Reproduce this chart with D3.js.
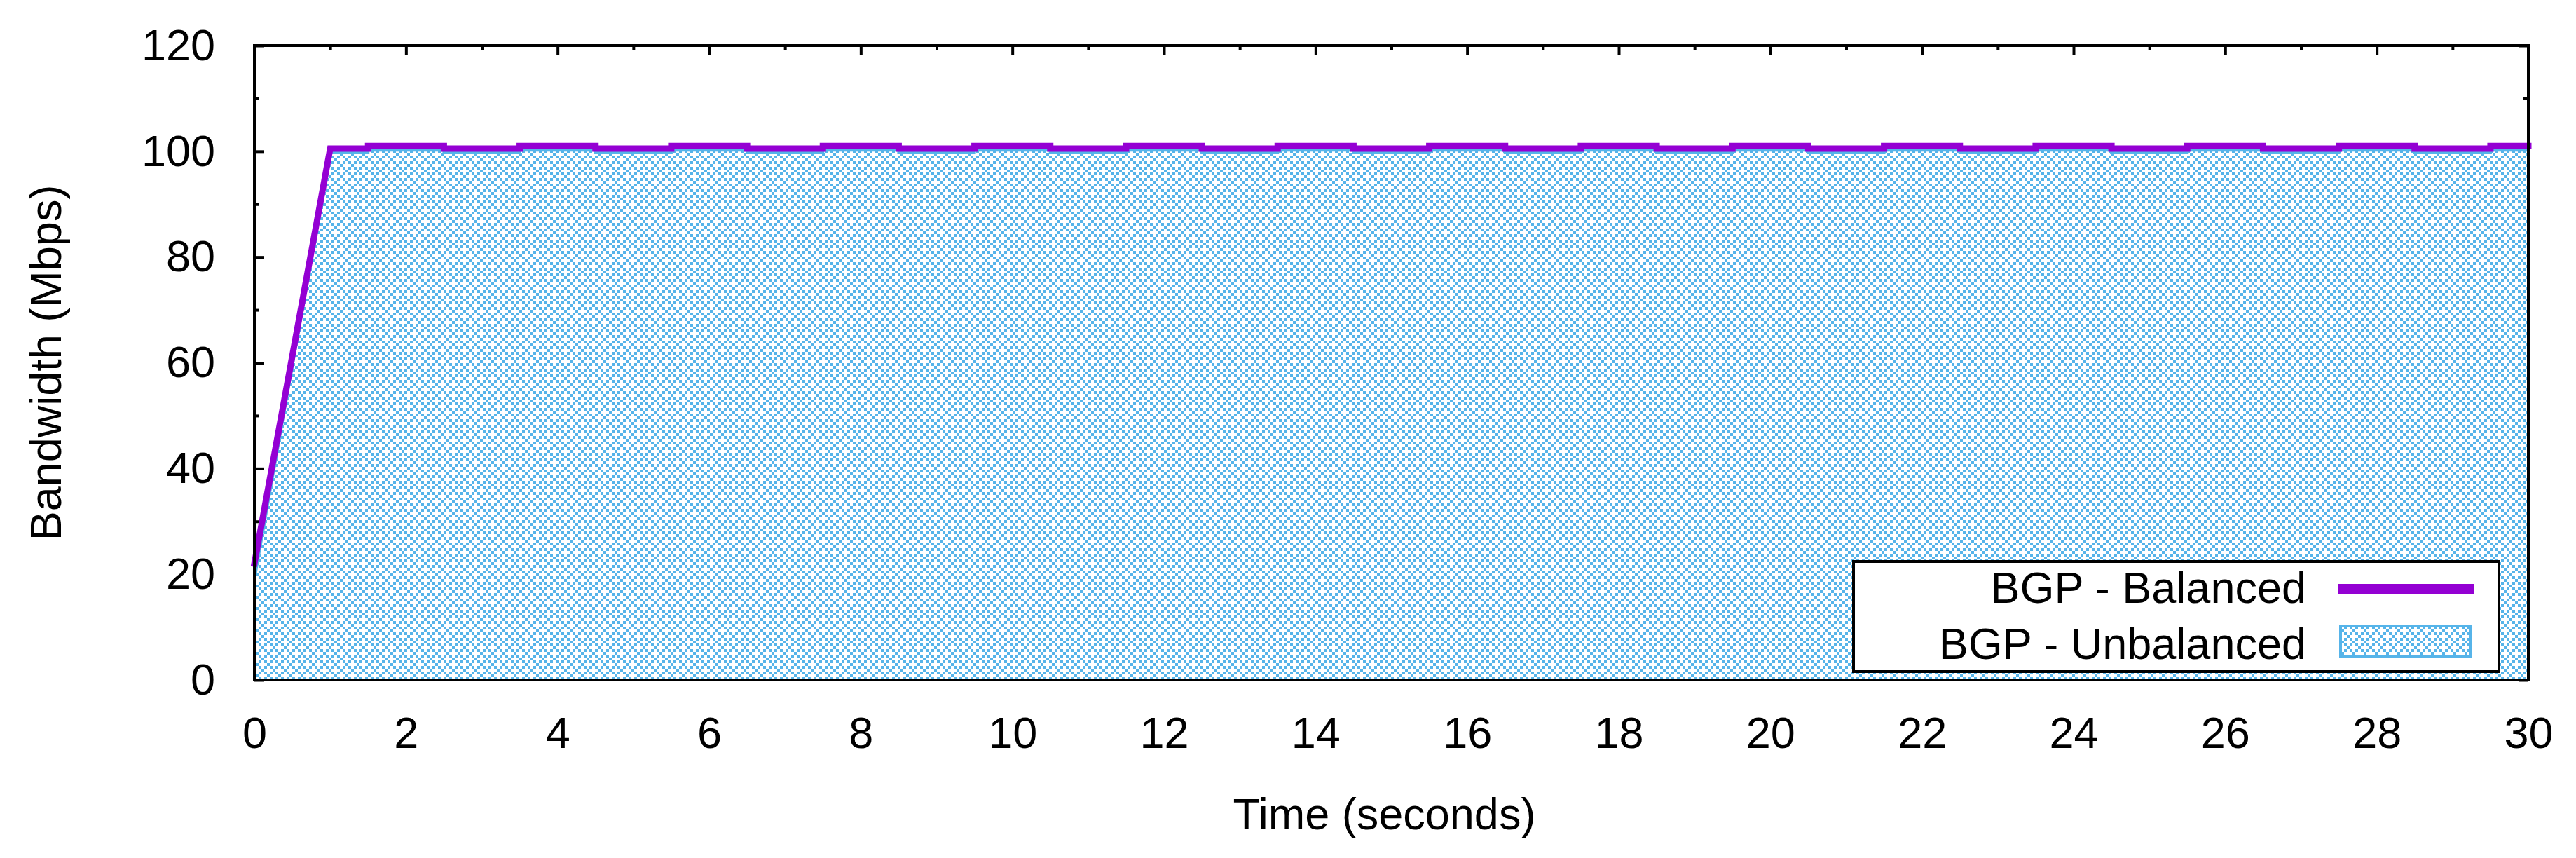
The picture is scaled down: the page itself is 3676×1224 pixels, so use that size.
<!DOCTYPE html>
<html><head><meta charset="utf-8">
<script src="https://cdn.jsdelivr.net/npm/d3@7"></script>
<style>html,body{margin:0;padding:0;background:#fff;} svg{display:block;}</style>
</head><body>
<svg id="chart" width="3676" height="1224"></svg>
<script>
// ---- data ----
const time = [0,1,2,3,4,5,6,7,8,9,10,11,12,13,14,15,16,17,18,19,20,21,22,23,24,25,26,27,28,29,30];
const balanced = [22,100.5,101,100.5,101,100.5,101,100.5,101,100.5,101,100.5,101,100.5,101,100.5,101,100.5,101,100.5,101,100.5,101,100.5,101,100.5,101,100.5,101,100.5,101];
const unbalanced = [19,99.7,100.2,99.7,100.2,99.7,100.2,99.7,100.2,99.7,100.2,99.7,100.2,99.7,100.2,99.7,100.2,99.7,100.2,99.7,100.2,99.7,100.2,99.7,100.2,99.7,100.2,99.7,100.2,99.7,100.2];
const seriesNames = ["BGP - Balanced", "BGP - Unbalanced"];
const xTicks = [0,2,4,6,8,10,12,14,16,18,20,22,24,26,28,30];
const xMinorTicks = [1,3,5,7,9,11,13,15,17,19,21,23,25,27,29];
const yTicks = [0,20,40,60,80,100,120];
const yMinorTicks = [10,30,50,70,90,110];
const xTitle = "Time (seconds)";
const yTitle = "Bandwidth (Mbps)";

// ---- layout ----
const L = 363, R = 3608, T = 65, B = 970;
const purple = "#9400d3", blue = "#56b4e9";
const FONT = "'Liberation Sans', Arial, sans-serif";
const FS = 63;

const svg = d3.select("#chart");
const x = d3.scaleLinear().domain([0, 30]).range([L, R]);
const y = d3.scaleLinear().domain([0, 120]).range([B, T]);

// curve: linear for large jumps, mid-step for small (pixel-level) changes, as in the raster original
function HybridStep(context) { this._context = context; this._t = 0.5; }
HybridStep.prototype = {
  areaStart() { this._line = 0; },
  areaEnd() { this._line = NaN; },
  lineStart() { this._x = this._y = NaN; this._point = 0; },
  lineEnd() {
    if (this._point === 2) this._context.lineTo(this._x, this._y);
    if (this._line || (this._line !== 0 && this._point === 1)) this._context.closePath();
    if (this._line >= 0) this._line = 1 - this._line;
  },
  point(px, py) {
    px = +px; py = +py;
    switch (this._point) {
      case 0: this._point = 1; this._line ? this._context.lineTo(px, py) : this._context.moveTo(px, py); break;
      case 1: this._point = 2;
      default: {
        if (Math.abs(py - this._y) > 30) {
          this._context.lineTo(px, py);
        } else {
          const xm = this._x * (1 - this._t) + px * this._t;
          this._context.lineTo(xm, this._y);
          this._context.lineTo(xm, py);
        }
        break;
      }
    }
    this._x = px; this._y = py;
  }
};
const curveHybrid = ctx => new HybridStep(ctx);

// pattern
const defs = svg.append("defs");
const pat = defs.append("pattern").attr("id", "hatch")
  .attr("patternUnits", "userSpaceOnUse").attr("width", 16).attr("height", 16)
  .attr("x", L + 2).attr("y", 2);
pat.append("rect").attr("width", 16).attr("height", 16).attr("fill", "#fff");
[[0,0],[1,1],[3,1],[2,2],[1,3],[3,3]].forEach(([cx, cy]) =>
  pat.append("rect").attr("x", cx * 4).attr("y", cy * 4).attr("width", 4).attr("height", 4).attr("fill", blue));

// ticks (behind the fill)
function styleAxis(g) {
  g.select(".domain").remove();
  g.selectAll("line").attr("stroke", "#000").attr("stroke-width", 4);
  g.selectAll("text").attr("font-family", FONT).attr("font-size", FS).attr("fill", "#000");
  g.attr("font-family", null).attr("font-size", null);
}
const MAJ = -14, MIN = -7;
svg.append("g").attr("transform", `translate(0,${B})`)
  .call(d3.axisBottom(x).tickValues(xTicks).tickFormat(d3.format("d")).tickSizeInner(MAJ).tickSizeOuter(0).tickPadding(52))
  .call(styleAxis);
svg.append("g").attr("transform", `translate(0,${B})`)
  .call(d3.axisBottom(x).tickValues(xMinorTicks).tickFormat("").tickSizeInner(MIN).tickSizeOuter(0))
  .call(styleAxis);
svg.append("g").attr("transform", `translate(0,${T})`)
  .call(d3.axisTop(x).tickValues(xTicks).tickFormat("").tickSizeInner(MAJ).tickSizeOuter(0))
  .call(styleAxis);
svg.append("g").attr("transform", `translate(0,${T})`)
  .call(d3.axisTop(x).tickValues(xMinorTicks).tickFormat("").tickSizeInner(MIN).tickSizeOuter(0))
  .call(styleAxis);
svg.append("g").attr("transform", `translate(${L},0)`)
  .call(d3.axisLeft(y).tickValues(yTicks).tickFormat(d3.format("d")).tickSizeInner(MAJ).tickSizeOuter(0).tickPadding(56))
  .call(styleAxis);
svg.append("g").attr("transform", `translate(${L},0)`)
  .call(d3.axisLeft(y).tickValues(yMinorTicks).tickFormat("").tickSizeInner(MIN).tickSizeOuter(0))
  .call(styleAxis);
svg.append("g").attr("transform", `translate(${R},0)`)
  .call(d3.axisRight(y).tickValues(yTicks).tickFormat("").tickSizeInner(MAJ).tickSizeOuter(0))
  .call(styleAxis);
svg.append("g").attr("transform", `translate(${R},0)`)
  .call(d3.axisRight(y).tickValues(yMinorTicks).tickFormat("").tickSizeInner(MIN).tickSizeOuter(0))
  .call(styleAxis);

// unbalanced filled area
const area = d3.area().curve(curveHybrid).x((d, i) => x(time[i])).y0(y(0)).y1(d => y(d));
svg.append("path").datum(unbalanced).attr("d", area)
  .attr("fill", "url(#hatch)").attr("stroke", blue).attr("stroke-width", 4).attr("stroke-linejoin", "miter");

// balanced line
const line = d3.line().curve(curveHybrid).x((d, i) => x(time[i])).y(d => y(d));
svg.append("path").datum(balanced).attr("d", line)
  .attr("fill", "none").attr("stroke", purple).attr("stroke-width", 9)
  .attr("stroke-linecap", "square").attr("stroke-linejoin", "miter");

// frame
svg.append("rect").attr("x", L).attr("y", T).attr("width", R - L).attr("height", B - T)
  .attr("fill", "none").attr("stroke", "#000").attr("stroke-width", 4);

// axis titles
svg.append("text").attr("x", (L + R) / 2 - 10).attr("y", 1183)
  .attr("text-anchor", "middle").attr("font-family", FONT).attr("font-size", FS).text(xTitle);
svg.append("text").attr("transform", `translate(87,${(T + B) / 2}) rotate(-90)`)
  .attr("text-anchor", "middle").attr("font-family", FONT).attr("font-size", FS).text(yTitle);

// legend
const lg = svg.append("g");
lg.append("rect").attr("x", 2645).attr("y", 801).attr("width", 3566 - 2645).attr("height", 958 - 801)
  .attr("fill", "#fff").attr("stroke", "#000").attr("stroke-width", 4);
lg.append("text").attr("x", 3291).attr("y", 860).attr("text-anchor", "end")
  .attr("font-family", FONT).attr("font-size", FS).text(seriesNames[0]);
lg.append("text").attr("x", 3291).attr("y", 940).attr("text-anchor", "end")
  .attr("font-family", FONT).attr("font-size", FS).text(seriesNames[1]);
lg.append("line").attr("x1", 3336).attr("x2", 3531).attr("y1", 840).attr("y2", 840)
  .attr("stroke", purple).attr("stroke-width", 14);
lg.append("rect").attr("x", 3340).attr("y", 893).attr("width", 185).attr("height", 44)
  .attr("fill", "url(#hatch)").attr("stroke", blue).attr("stroke-width", 4);
</script>
</body></html>
